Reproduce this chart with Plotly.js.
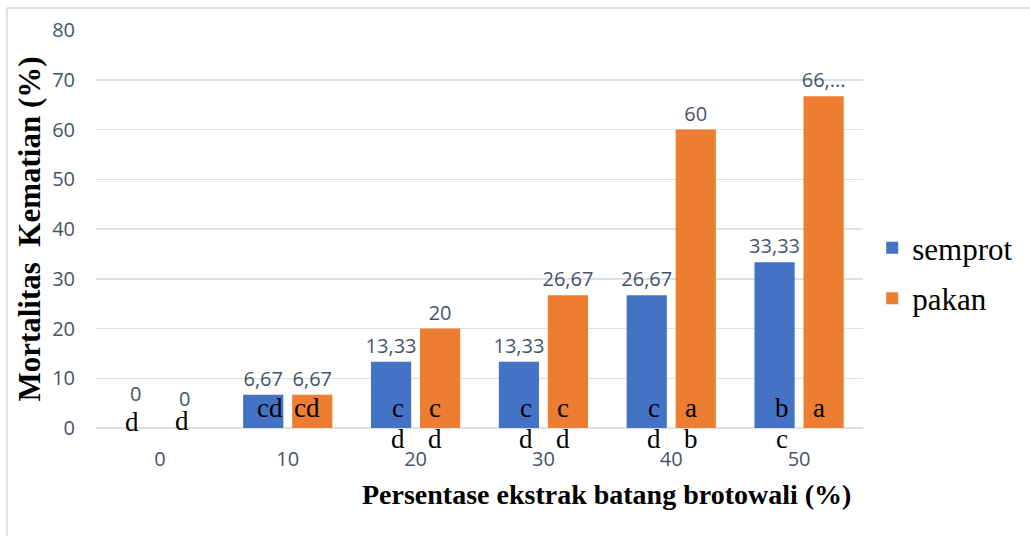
<!DOCTYPE html>
<html><head><meta charset="utf-8">
<script src="https://cdn.plot.ly/plotly-3.0.1.min.js"></script>
<style>html,body{margin:0;padding:0;background:#fff}#chart{width:1030px;height:536px}</style>
</head><body><div id="chart"></div>
<script>
const categories = ['0', '10', '20', '30', '40', '50'];
const semprot = [0, 6.67, 13.33, 13.33, 26.67, 33.33];
const pakan = [0, 6.67, 20, 26.67, 60, 66.67];
const semprotLabels = ['0', '6,67', '13,33', '13,33', '26,67', '33,33'];
const pakanLabels = ['0', '6,67', '20', '26,67', '60', '66,...'];
const semprotLetterTop = ['d', 'cd', 'c', 'c', 'c', 'b'];
const pakanLetterTop = ['d', 'cd', 'c', 'c', 'a', 'a'];
const semprotLetterBottom = ['', '', 'd', 'd', 'd', 'c'];
const pakanLetterBottom = ['', '', 'd', 'd', 'b', ''];
const seriesNames = ['semprot', 'pakan'];
const yTicks = [0, 10, 20, 30, 40, 50, 60, 70, 80];
const yTitle = 'Mortalitas&nbsp; Kematian (%)';
const xTitle = 'Persentase ekstrak batang brotowali (%)';

const labelFont = {family: 'Open Sans', size: 20, color: '#44546A'};
const serif = 'Liberation Serif, Times New Roman, serif';

// bars of height 0 get their value label as an annotation (Plotly shrinks outside text on empty bars)
const barText = (vals, labels) => labels.map((t, i) => vals[i] === 0 ? '' : t);

const traces = [
  {type: 'bar', name: seriesNames[0], x: categories, y: semprot, text: barText(semprot, semprotLabels),
   textposition: 'outside', textfont: labelFont, constraintext: 'none', cliponaxis: false,
   marker: {color: '#4472C4'}, legendgroup: 'g1', hoverinfo: 'x+y'},
  {type: 'bar', name: seriesNames[1], x: categories, y: pakan, text: barText(pakan, pakanLabels),
   textposition: 'outside', textfont: labelFont, constraintext: 'none', cliponaxis: false,
   marker: {color: '#ED7D31'}, legendgroup: 'g2', hoverinfo: 'x+y'}
];

const annotations = [];
const letterFont = {family: serif, size: 27, color: '#000'};
categories.forEach((c, i) => {
  const zero = semprot[i] === 0;
  if (semprot[i] === 0) annotations.push({x: i, y: semprot[i], xref: 'x', yref: 'y', text: semprotLabels[i],
    showarrow: false, font: labelFont, xshift: -24.5, yanchor: 'bottom', yshift: 19});
  if (pakan[i] === 0) annotations.push({x: i, y: pakan[i], xref: 'x', yref: 'y', text: pakanLabels[i],
    showarrow: false, font: labelFont, xshift: 24.5, yanchor: 'bottom', yshift: 14});
  annotations.push({x: i, y: 0, xref: 'x', yref: 'y', text: semprotLetterTop[i], showarrow: false,
    font: letterFont, xshift: zero ? -28 : -17.5, yanchor: 'bottom', yshift: zero ? -11 : 3});
  annotations.push({x: i, y: 0, xref: 'x', yref: 'y', text: pakanLetterTop[i], showarrow: false,
    font: letterFont, xshift: zero ? 22 : 19.5, yanchor: 'bottom', yshift: zero ? -10 : 3});
  if (semprotLetterBottom[i]) annotations.push({x: i, y: 0, xref: 'x', yref: 'y', text: semprotLetterBottom[i],
    showarrow: false, font: letterFont, xshift: -17.5, yanchor: 'bottom', yshift: -28});
  if (pakanLetterBottom[i]) annotations.push({x: i, y: 0, xref: 'x', yref: 'y', text: pakanLetterBottom[i],
    showarrow: false, font: letterFont, xshift: 19.5, yanchor: 'bottom', yshift: -28});
});
annotations.push({x: (606 - 96) / 767, y: (428 - 494) / 398, xref: 'paper', yref: 'paper', text: '<b>' + xTitle + '</b>',
  showarrow: false, font: {family: serif, size: 28, color: '#000'}, xanchor: 'center', yanchor: 'middle'});

const layout = {
  width: 1030, height: 536,
  margin: {l: 96, r: 167, t: 30, b: 108},
  paper_bgcolor: '#fff', plot_bgcolor: '#fff',
  barmode: 'group', bargap: 0.233, bargroupgap: 0.18,
  font: {family: 'Open Sans', color: '#44546A'},
  xaxis: {type: 'category', range: [-0.5, categories.length - 0.5], showgrid: false, showline: false, ticks: '',
    tickfont: labelFont, ticklabelstandoff: 17, fixedrange: true},
  yaxis: {range: [0, 80], tickvals: yTicks, showgrid: true, gridcolor: '#DCE1E7', gridwidth: 1.5,
    zeroline: true, zerolinecolor: '#DCE1E7', zerolinewidth: 1.5, showline: false, ticks: '',
    tickfont: labelFont, ticklabelstandoff: 20, fixedrange: true,
    title: {text: '<b>' + yTitle + '</b>', font: {family: serif, size: 31, color: '#000'}, standoff: 2}},
  legend: {x: 1.012, xanchor: 'left', y: 0.389, yanchor: 'middle', traceorder: 'grouped', tracegroupgap: 7,
    font: {family: serif, size: 31, color: '#000'}, bgcolor: 'rgba(0,0,0,0)'},
  annotations: annotations,
  shapes: [{type: 'rect', xref: 'paper', yref: 'paper', x0: (7 - 96) / 767, x1: (1045 - 96) / 767,
    y0: (428 - 550) / 398, y1: (428 - 8) / 398, line: {color: '#D9D9D9', width: 1.5}, fillcolor: 'rgba(0,0,0,0)', layer: 'below'}]
};

Plotly.newPlot('chart', traces, layout, {displayModeBar: false, staticPlot: true});
</script>
</body></html>
